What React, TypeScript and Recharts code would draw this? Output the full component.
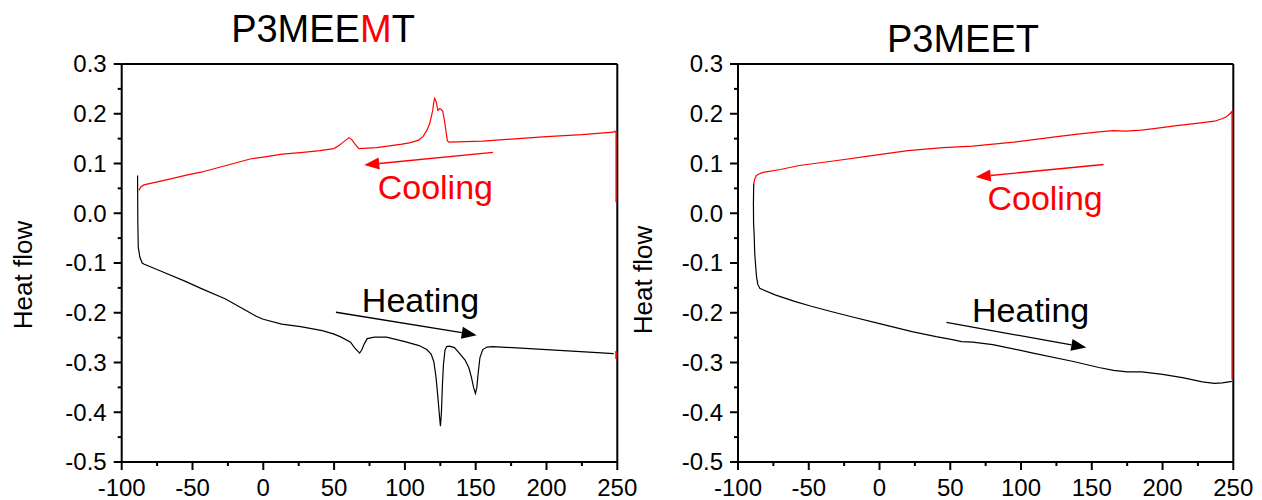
import React from "react";
import { LineChart, Line, XAxis, YAxis, ReferenceLine, ReferenceDot } from "recharts";

const FONT = "'Liberation Sans', Arial, Helvetica, sans-serif";
const RED = "#ff0000";

// tick values
const xTicks = [-100, -75, -50, -25, 0, 25, 50, 75, 100, 125, 150, 175, 200, 225, 250];
const yTicks = [-0.5, -0.45, -0.4, -0.35, -0.3, -0.25, -0.2, -0.15, -0.1, -0.05, 0, 0.05, 0.1, 0.15, 0.2, 0.25, 0.3];

// P3MEEMT, heating (black)
const heatingM = [
  [-88.8, 0.076], [-88.6, -0.02], [-88.3, -0.068], [-87.2, -0.088], [-85.5, -0.1], [-84.4, -0.102],
  [-70, -0.119], [-55, -0.137], [-43.3, -0.152], [-27, -0.172], [-10, -0.199], [-5, -0.207],
  [0, -0.213], [13, -0.223], [26.3, -0.228], [41.7, -0.236], [50, -0.243], [55, -0.249],
  [61.6, -0.259], [64.4, -0.27], [68, -0.281], [69.5, -0.275], [71.4, -0.262], [73.4, -0.252],
  [78.5, -0.249], [87, -0.249], [100, -0.258], [110, -0.266], [115.4, -0.274], [118.5, -0.283],
  [120.4, -0.298], [122, -0.33], [123.3, -0.37], [124.5, -0.41], [125.1, -0.428], [125.8, -0.4],
  [126.5, -0.345], [127.2, -0.305], [128.3, -0.275], [129.5, -0.268], [131.5, -0.267], [135, -0.27],
  [139, -0.283], [142.5, -0.295], [145.1, -0.31], [147, -0.33], [148.5, -0.35], [149.8, -0.362],
  [150.8, -0.35], [151.8, -0.32], [153, -0.29], [155, -0.274], [158, -0.269], [162, -0.268],
  [200, -0.274], [230, -0.279], [247.5, -0.282],
];

// P3MEEMT, cooling (red)
const coolingM = [
  [-87.8, 0.046], [-86.5, 0.053], [-84.4, 0.057], [-70, 0.066], [-55, 0.076], [-43.3, 0.083],
  [-25, 0.097], [-9.3, 0.109], [0, 0.113], [13.3, 0.119], [26.3, 0.122], [40, 0.126],
  [49.8, 0.13], [53, 0.135], [56, 0.142], [60.5, 0.152], [62.5, 0.148], [64.5, 0.14],
  [67.5, 0.13], [80, 0.132], [98, 0.139], [104, 0.142], [109.7, 0.147], [113, 0.155],
  [115.4, 0.166], [117.5, 0.18], [119.6, 0.206], [120.5, 0.225], [121.1, 0.231], [122, 0.225],
  [123.3, 0.207], [124.5, 0.21], [125.5, 0.209], [126.7, 0.205], [128, 0.185], [129, 0.165],
  [130, 0.146], [131, 0.143], [155, 0.145], [180, 0.15], [200, 0.154], [225, 0.158],
  [247.3, 0.163], [248.3, 0.165], [249.1, 0.162], [249.1, 0.022],
];
const coolingMStub = [[249.1, -0.277], [249.1, -0.293]];

// P3MEET, heating (black)
const heatingT = [
  [-88.9, 0.06], [-89.1, 0.02], [-89, -0.02], [-88.6, -0.041], [-88.2, -0.08], [-87.5, -0.107],
  [-86.8, -0.13], [-86, -0.143], [-84.6, -0.151], [-73.8, -0.164], [-60, -0.177], [-48.2, -0.187],
  [-35, -0.197], [-19.7, -0.208], [0, -0.222], [23, -0.238], [40, -0.248], [51.5, -0.254],
  [58, -0.258], [65.8, -0.259], [80, -0.264], [108.5, -0.281], [137, -0.298], [155, -0.31],
  [165.4, -0.316], [175, -0.319], [185.4, -0.319], [200, -0.324], [215, -0.331], [228.1, -0.339],
  [236.7, -0.342], [242.3, -0.341], [249, -0.338],
];

// P3MEET, cooling (red)
const coolingT = [
  [-88.9, 0.058], [-88.3, 0.068], [-87, 0.076], [-85.2, 0.079], [-82.3, 0.082], [-70, 0.088],
  [-56.7, 0.096], [-30, 0.106], [-5.4, 0.116], [20, 0.126], [45, 0.132], [65.8, 0.135],
  [95, 0.143], [122.7, 0.153], [140, 0.159], [156.9, 0.164], [165, 0.166], [174, 0.165],
  [185, 0.167], [193.9, 0.17], [210, 0.176], [222.4, 0.18], [236.7, 0.185], [242, 0.19],
  [245.2, 0.194], [248.3, 0.202], [249.1, 0.205], [249.1, 0.19], [249.1, -0.334],
];

// annotations (data coordinates)
const notesM = {
  cool: { from: [162.2, 0.1225], to: [71.3, 0.097], text: [121.5, 0.029] },
  heat: { from: [51.3, -0.199], to: [150.7, -0.245], text: [111, -0.199] },
};
const notesT = {
  cool: { from: [158.3, 0.098], to: [68, 0.073], text: [117, 0.006] },
  heat: { from: [47.3, -0.2195], to: [146.1, -0.27], text: [106.8, -0.2195] },
};

const toPts = (arr: number[][]) => arr.map(([x, y]) => ({ x, y }));

const TICK_OFF = 8;

const XTick = (props: any) => {
  const { x, y, payload } = props;
  const axisY = y - TICK_OFF;
  const major = payload.value % 50 === 0;
  return (
    <g>
      <line x1={x} x2={x} y1={axisY} y2={axisY + (major ? 8 : 4)} stroke="#000" strokeWidth={2} />
      {major && (
        <text x={x} y={axisY + 33.5} textAnchor="middle" fontSize={24} fontFamily={FONT} fill="#000">
          {payload.value}
        </text>
      )}
    </g>
  );
};

const YTick = (props: any) => {
  const { x, y, payload } = props;
  const axisX = x + TICK_OFF;
  const v = payload.value as number;
  const major = Math.abs(Math.round(v * 100)) % 10 === 0;
  return (
    <g>
      <line x1={axisX - (major ? 8 : 4)} x2={axisX} y1={y} y2={y} stroke="#000" strokeWidth={2} />
      {major && (
        <text x={axisX - 15} y={y} dy="0.35em" textAnchor="end" fontSize={24} fontFamily={FONT} fill="#000">
          {v.toFixed(1)}
        </text>
      )}
    </g>
  );
};

const makeArrow = (color: string) => (p: any) => {
  const { x1, y1, x2, y2 } = p;
  const dx = x2 - x1;
  const dy = y2 - y1;
  const len = Math.sqrt(dx * dx + dy * dy) || 1;
  const ux = dx / len;
  const uy = dy / len;
  const hl = 15;
  const hw = 6;
  const bx = x2 - ux * hl;
  const by = y2 - uy * hl;
  return (
    <g>
      <line x1={x1} y1={y1} x2={bx} y2={by} stroke={color} strokeWidth={1.3} />
      <polygon
        points={`${x2},${y2} ${bx - uy * hw},${by + ux * hw} ${bx + uy * hw},${by - ux * hw}`}
        fill={color}
      />
    </g>
  );
};

const makeText = (label: string, color: string) => (p: any) => (
  <text x={p.cx} y={p.cy} textAnchor="middle" fontSize={34} fontFamily={FONT} fill={color}>
    {label}
  </text>
);

interface PanelProps {
  width: number;
  yAxisWidth: number;
  rightMargin: number;
  heating: number[][];
  cooling: number[][];
  extra?: number[][];
  notes: typeof notesM;
}

function Panel({ width, yAxisWidth, rightMargin, heating, cooling, extra, notes }: PanelProps) {
  return (
    <LineChart width={width} height={500} margin={{ top: 64, right: rightMargin, bottom: 0, left: 0 }}>
      <XAxis
        dataKey="x"
        type="number"
        domain={[-100, 250]}
        ticks={xTicks}
        interval={0}
        allowDataOverflow
        height={38}
        tickSize={TICK_OFF}
        tickMargin={0}
        tickLine={false}
        axisLine={{ stroke: "#000", strokeWidth: 2 }}
        tick={<XTick />}
      />
      <YAxis
        type="number"
        domain={[-0.5, 0.3]}
        ticks={yTicks}
        interval={0}
        allowDataOverflow
        width={yAxisWidth}
        tickSize={TICK_OFF}
        tickMargin={0}
        tickLine={false}
        axisLine={{ stroke: "#000", strokeWidth: 2 }}
        tick={<YTick />}
      />
      <ReferenceLine y={0.3} stroke="#000" strokeWidth={2} />
      <ReferenceLine x={250} stroke="#000" strokeWidth={2} />
      <Line data={toPts(heating)} dataKey="y" type="linear" stroke="#000" strokeWidth={1.2} dot={false} activeDot={false} isAnimationActive={false} />
      <Line data={toPts(cooling)} dataKey="y" type="linear" stroke={RED} strokeWidth={1.2} dot={false} activeDot={false} isAnimationActive={false} />
      {extra && (
        <Line data={toPts(extra)} dataKey="y" type="linear" stroke={RED} strokeWidth={1.5} dot={false} activeDot={false} isAnimationActive={false} />
      )}
      <ReferenceLine
        segment={[{ x: notes.cool.from[0], y: notes.cool.from[1] }, { x: notes.cool.to[0], y: notes.cool.to[1] }]}
        shape={makeArrow(RED)}
      />
      <ReferenceLine
        segment={[{ x: notes.heat.from[0], y: notes.heat.from[1] }, { x: notes.heat.to[0], y: notes.heat.to[1] }]}
        shape={makeArrow("#000")}
      />
      <ReferenceDot x={notes.cool.text[0]} y={notes.cool.text[1]} r={1} shape={makeText("Cooling", RED)} />
      <ReferenceDot x={notes.heat.text[0]} y={notes.heat.text[1]} r={1} shape={makeText("Heating", "#000")} />
    </LineChart>
  );
}

export default function App() {
  return (
    <div style={{ position: "absolute", left: 0, top: 0, width: 1262, height: 500, background: "#fff", overflow: "hidden" }}>
      <div style={{ position: "absolute", left: 0, top: 0 }}>
        <Panel width={660} yAxisWidth={121.7} rightMargin={42.7} heating={heatingM} cooling={coolingM} extra={coolingMStub} notes={notesM} />
      </div>
      <div style={{ position: "absolute", left: 631, top: 0 }}>
        <Panel width={631} yAxisWidth={107} rightMargin={28.7} heating={heatingT} cooling={coolingT} notes={notesT} />
      </div>
      <svg width={1262} height={500} style={{ position: "absolute", left: 0, top: 0, pointerEvents: "none" }}>
        <text x={323} y={41.5} textAnchor="middle" fontSize={38} fontFamily={FONT} fill="#000">
          P3MEE<tspan fill={RED}>M</tspan>T
        </text>
        <text x={963} y={51.5} textAnchor="middle" fontSize={38} fontFamily={FONT} fill="#000">
          P3MEET
        </text>
        <text transform="translate(31.5,275) rotate(-90)" textAnchor="middle" fontSize={26} fontFamily={FONT} fill="#000">
          Heat flow
        </text>
        <text transform="translate(652,280) rotate(-90)" textAnchor="middle" fontSize={26} fontFamily={FONT} fill="#000">
          Heat flow
        </text>
      </svg>
    </div>
  );
}
